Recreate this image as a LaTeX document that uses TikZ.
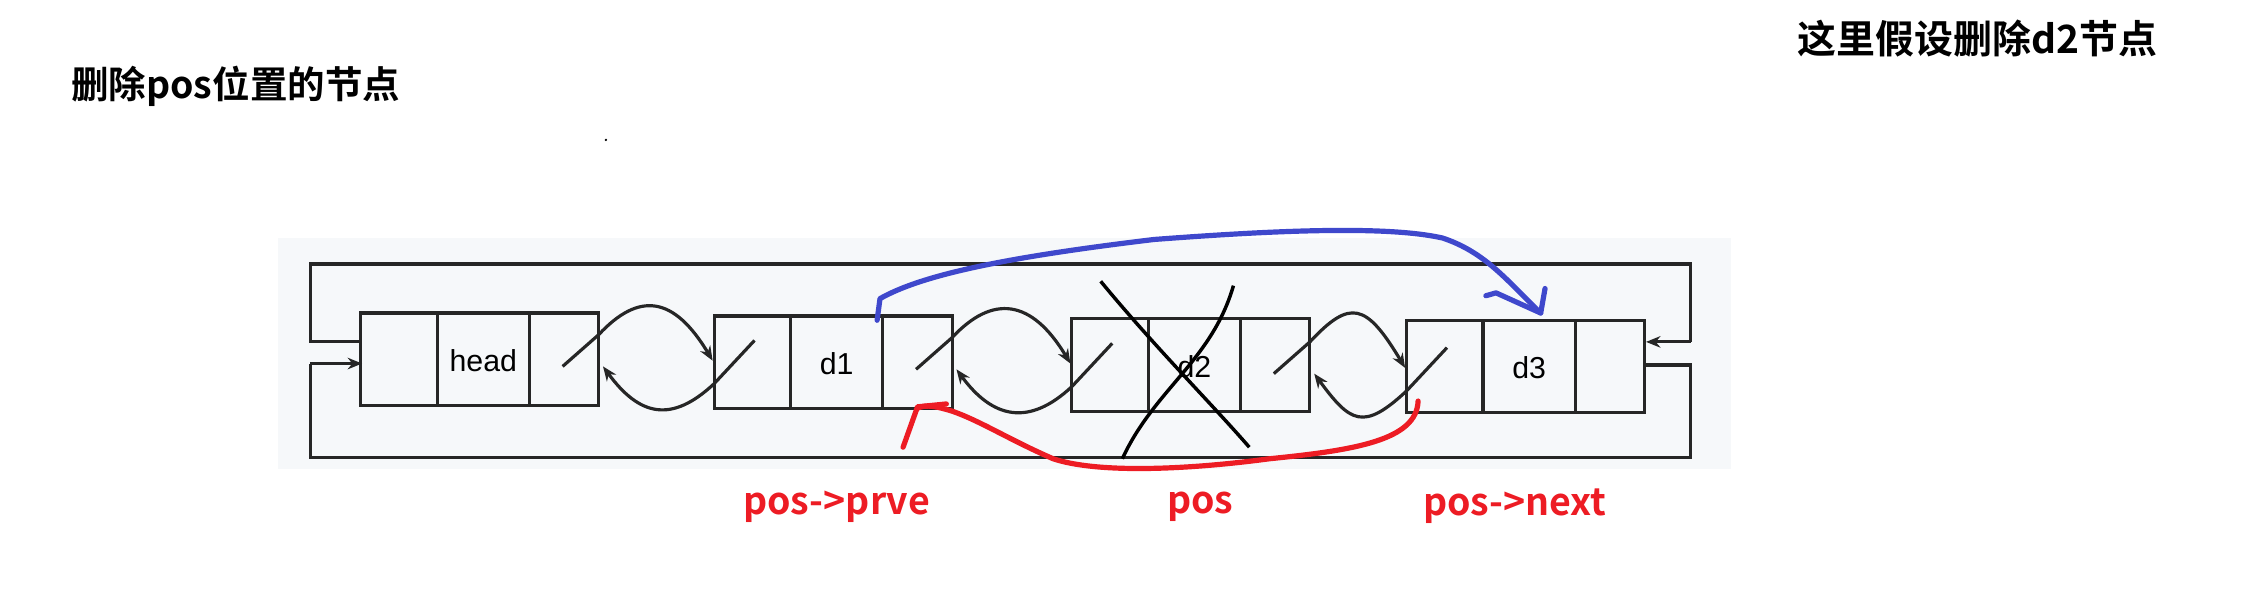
\documentclass[tikz,border=0pt]{standalone}
\usepackage{fontspec}
\setmainfont{Liberation Sans}
\newfontfamily\cjk{Noto Sans CJK SC}[BoldFont={* Bold}]
\usetikzlibrary{arrows.meta}
\definecolor{bgg}{HTML}{F6F8FA}
\definecolor{pblue}{HTML}{3F48CC}
\definecolor{pred}{HTML}{ED1C24}
\begin{document}
\begin{tikzpicture}[x=1pt,y=-1pt,
  ln/.style={line width=2.2pt,black!85},
  tip/.style={-{Stealth[length=10pt,width=8pt]}},
  cell/.style={draw=black!85,line width=2.2pt},
  lbl/.style={font=\fontsize{21}{21}\selectfont},
  red/.style={font=\cjk\bfseries\fontsize{26}{26}\selectfont,text=pred},
  pen/.style={line width=3.6pt,line cap=round,line join=round}]
\useasboundingbox (0,0) rectangle (1568,414);
\fill[bgg] (193,165) rectangle (1200,325);
% boxes
\newcommand\lbox[4]{%
 \draw[cell] (#1,#2) rectangle ++(165,64);
 \draw[cell] (#1+53,#2) -- ++(0,64) (#1+117,#2) -- ++(0,64);
 \node[lbl] (#3) at (#1+85,#2+33) {#4};}
\lbox{250}{217}{head}{head}
\lbox{495}{219}{d1}{d1}
\lbox{743}{221}{d2}{d2}
\lbox{975}{222}{d3}{d3}
% outer loop
\coordinate (hin) at (251,252);
\coordinate (d3in) at (1141,237);
\draw[ln] (250,237) -- (215,237) -- (215,183) -- (1172,183) -- (1172,237);
\draw[ln,tip] (1172,237) -- (d3in);
\draw[ln] (1140,253) -- (1172,253) -- (1172,317) -- (215,317) -- (215,252);
\draw[ln,tip] (215,252) -- (hin);
% links
\newcommand\links[3]{%
 \draw[ln,tip] (#1-25,#3+4) -- (#1,#3-18) .. controls (#1+28,#3-48) and (#2-28,#3-45) .. (#2-1,#3);
 \draw[ln,tip] (#2+28,#3-14) -- (#2,#3+16) .. controls (#2-30,#3+44) and (#1+28,#3+38) .. (#1+3,#3+4);}
\links{415}{495}{250}
\links{660}{743}{252}
\links{908}{975}{255}
% X over d2
\draw[line width=2.4pt] (763,195) .. controls (800,240) and (840,280) .. (866,310);
\draw[line width=2.4pt] (855,198) .. controls (840,250) and (800,270) .. (778,318);
% blue pen
\draw[pen,pblue] (608,222) -- (610,207) .. controls (640,190) and (700,178) .. (800,166) .. controls (880,160) and (960,156) .. (1000,165) .. controls (1030,175) and (1045,195) .. (1068,217);
\draw[pen,pblue] (1030,205) -- (1037,203) -- (1068,217) -- (1071,200);
% red pen
\draw[pen,pred] (983,278) .. controls (982,305) and (940,312) .. (880,318) .. controls (820,326) and (760,328) .. (730,318) .. controls (700,305) and (680,292) .. (660,285) .. controls (650,282) and (642,280) .. (636,283);
\draw[pen,pred] (626,310) -- (636,282) -- (656,280);
% texts
\node[red] (t1) at (580,351) {pos->prve};
\node[red] (t2) at (832,351) {pos};
\node[red] (t3) at (1050,351) {pos->next};
\node[font=\cjk\bfseries\fontsize{26}{26}\selectfont,anchor=west] (ttl) at (46,60) {删除pos位置的节点};
\node[font=\cjk\bfseries\fontsize{27}{27}\selectfont,anchor=east] (ttr) at (1499,27) {这里假设删除d2节点};
\fill (420,97) circle (0.9);
\end{tikzpicture}
\end{document}
